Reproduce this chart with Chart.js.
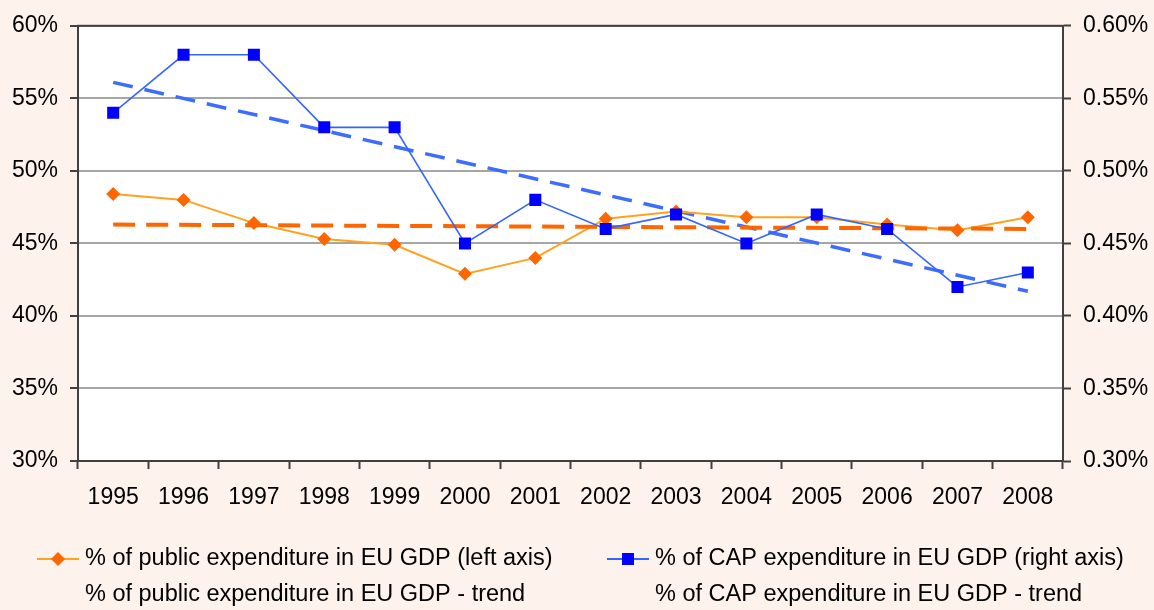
<!DOCTYPE html>
<html>
<head>
<meta charset="utf-8">
<script src="https://cdn.jsdelivr.net/npm/chart.js@4.4.1/dist/chart.umd.min.js"></script>
<style>
    body { margin: 0; background: #fdf2ec; }
    #chart { display: block; }
</style>
</head>
<body>
<canvas id="chart" width="1154" height="610"></canvas>
<script>
// values
const years = ['1995', '1996', '1997', '1998', '1999', '2000', '2001', '2002', '2003', '2004', '2005', '2006', '2007', '2008'];
const publicExp = [48.4, 48.0, 46.4, 45.3, 44.9, 42.9, 44.0, 46.7, 47.2, 46.8, 46.8, 46.3, 45.9, 46.8]; // % (left axis)
const capExp = [0.54, 0.58, 0.58, 0.53, 0.53, 0.45, 0.48, 0.46, 0.47, 0.45, 0.47, 0.46, 0.42, 0.43]; // % (right axis)
// trend lines: only the two end points, the line is drawn straight between them
const publicTrend = [46.3, null, null, null, null, null, null, null, null, null, null, null, null, 46.0];
const capTrend = [0.561, null, null, null, null, null, null, null, null, null, null, null, null, 0.417];

const leftTicks = { min: 30, max: 60, step: 5 };
const rightTicks = { min: 0.30, max: 0.60, step: 0.05 };

const PAGE_BG = '#fdf2ec';
const AXIS_COLOR = '#404040';
const GRID_COLOR = '#a6a6a6';
const FONT = 'Liberation Sans, Arial, sans-serif';

// page background + white plot area + dark frame
const plotBackground = {
    id: 'plotBackground',
    beforeDraw(chart) {
        const { ctx, chartArea: a } = chart;
        ctx.save();
        ctx.fillStyle = PAGE_BG;
        ctx.fillRect(0, 0, chart.width, chart.height);
        ctx.fillStyle = '#ffffff';
        ctx.fillRect(a.left, a.top, a.right - a.left, a.bottom - a.top);
        ctx.restore();
    },
    beforeDatasetsDraw(chart) {
        const { ctx, chartArea: a } = chart;
        ctx.save();
        ctx.strokeStyle = AXIS_COLOR;
        ctx.lineWidth = 2;
        ctx.strokeRect(a.left, a.top, a.right - a.left, a.bottom - a.top);
        ctx.restore();
    }
};

// two column legend under the chart (trend entries have no symbol)
const twoColLegend = {
    id: 'twoColLegend',
    afterDraw(chart) {
        const ctx = chart.ctx;
        const slots = [
            { x: 37, y: 559 }, // public
            { x: 607, y: 559 }, // cap
            { x: 37, y: 595 }, // public trend
            { x: 607, y: 595 }  // cap trend
        ];
        ctx.save();
        ctx.font = '23.5px ' + FONT;
        ctx.textBaseline = 'middle';
        chart.data.datasets.forEach((ds, i) => {
            const s = slots[i];
            if (ds.legendSymbol) {
                ctx.strokeStyle = ds.borderColor;
                ctx.lineWidth = 2;
                ctx.beginPath();
                ctx.moveTo(s.x, s.y);
                ctx.lineTo(s.x + 42, s.y);
                ctx.stroke();
                ctx.fillStyle = ds.pointBackgroundColor;
                const cx = s.x + 21;
                if (ds.pointStyle === 'rectRot') {
                    ctx.beginPath();
                    ctx.moveTo(cx, s.y - 7);
                    ctx.lineTo(cx + 7, s.y);
                    ctx.lineTo(cx, s.y + 7);
                    ctx.lineTo(cx - 7, s.y);
                    ctx.closePath();
                    ctx.fill();
                } else {
                    ctx.fillRect(cx - 6, s.y - 6, 12, 12);
                }
            }
            ctx.fillStyle = '#000000';
            ctx.fillText(ds.label, s.x + 48, s.y);
        });
        ctx.restore();
    }
};

const ctx = document.getElementById('chart').getContext('2d');

new Chart(ctx, {
    type: 'line',
    data: {
        labels: years,
        datasets: [
            {
                label: '% of public expenditure in EU GDP (left axis)',
                data: publicExp,
                yAxisID: 'yLeft',
                borderColor: '#ffa31f',
                borderWidth: 2,
                pointStyle: 'rectRot',
                pointRadius: 7,
                pointBackgroundColor: '#ff6600',
                pointBorderColor: '#ff6600',
                pointBorderWidth: 0,
                legendSymbol: true,
                order: 3
            },
            {
                label: '% of CAP expenditure in EU GDP (right axis)',
                data: capExp,
                yAxisID: 'yRight',
                borderColor: '#3366ff',
                borderWidth: 1.6,
                pointStyle: 'rect',
                pointRadius: 8.5,
                pointBackgroundColor: '#0000ff',
                pointBorderColor: '#0000ff',
                pointBorderWidth: 0,
                legendSymbol: true,
                order: 1
            },
            {
                label: '% of public expenditure in EU GDP - trend',
                data: publicTrend,
                yAxisID: 'yLeft',
                borderColor: '#ff6600',
                borderWidth: 4,
                borderDash: [22, 11],
                pointRadius: 0,
                spanGaps: true,
                legendSymbol: false,
                order: 2
            },
            {
                label: '% of CAP expenditure in EU GDP - trend',
                data: capTrend,
                yAxisID: 'yRight',
                borderColor: '#3d6cff',
                borderWidth: 3.5,
                borderDash: [20, 12],
                pointRadius: 0,
                spanGaps: true,
                legendSymbol: false,
                order: 4
            }
        ]
    },
    options: {
        responsive: false,
        animation: false,
        layout: {
            padding: { top: 23, bottom: 89, left: 0, right: 0 }
        },
        plugins: {
            legend: { display: false },
            tooltip: { enabled: false },
            title: { display: false }
        },
        scales: {
            x: {
                type: 'category',
                offset: true,
                grid: {
                    offset: true,
                    drawOnChartArea: false,
                    drawTicks: true,
                    tickLength: 8,
                    tickColor: AXIS_COLOR,
                    tickWidth: 2
                },
                border: { display: true, color: AXIS_COLOR, width: 2 },
                ticks: {
                    color: '#000000',
                    font: { family: FONT, size: 23 },
                    padding: 15,
                    maxRotation: 0,
                    autoSkip: false
                },
                afterFit(scale) { scale.height = 60; }
            },
            yLeft: {
                type: 'linear',
                position: 'left',
                min: leftTicks.min,
                max: leftTicks.max,
                grid: {
                    color: GRID_COLOR,
                    lineWidth: 2,
                    drawTicks: true,
                    tickLength: 8,
                    tickColor: AXIS_COLOR,
                    tickWidth: 2
                },
                border: { display: true, color: AXIS_COLOR, width: 2 },
                ticks: {
                    stepSize: leftTicks.step,
                    color: '#000000',
                    font: { family: FONT, size: 23 },
                    padding: 12,
                    callback: v => v + '%'
                },
                afterFit(scale) { scale.width = 78; }
            },
            yRight: {
                type: 'linear',
                position: 'right',
                min: rightTicks.min,
                max: rightTicks.max,
                grid: {
                    drawOnChartArea: false,
                    drawTicks: true,
                    tickLength: 8,
                    tickColor: AXIS_COLOR,
                    tickWidth: 2
                },
                border: { display: true, color: AXIS_COLOR, width: 2 },
                ticks: {
                    stepSize: rightTicks.step,
                    color: '#000000',
                    font: { family: FONT, size: 23 },
                    padding: 12,
                    callback: v => v.toFixed(2) + '%'
                },
                afterFit(scale) { scale.width = 91; }
            }
        }
    },
    plugins: [plotBackground, twoColLegend]
});
</script>
</body>
</html>
